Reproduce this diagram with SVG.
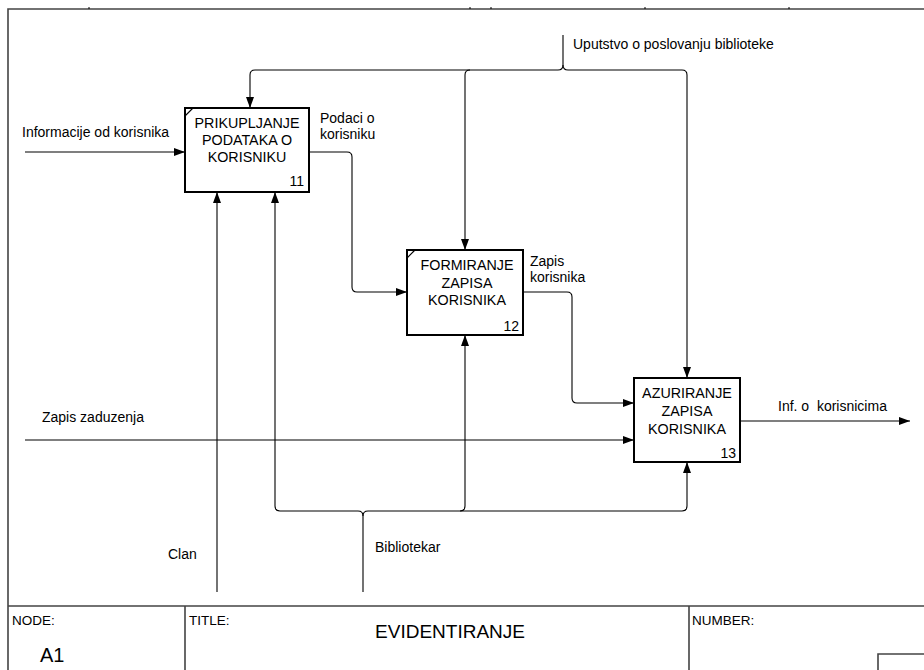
<svg xmlns="http://www.w3.org/2000/svg" width="924" height="670" viewBox="0 0 924 670">
<defs>
<style>
.frame{fill:none;stroke:#444;stroke-width:1.6}
.box{fill:#fff;stroke:#000;stroke-width:2}
.c{fill:none;stroke:#000;stroke-width:1.1}
.t{font-family:"Liberation Sans",Arial,sans-serif;font-size:14px;fill:#000}
.bt{font-family:"Liberation Sans",Arial,sans-serif;font-size:14.3px;fill:#000;text-anchor:middle}
.num{font-family:"Liberation Sans",Arial,sans-serif;font-size:14px;fill:#000;text-anchor:end}
.s{font-family:"Liberation Sans",Arial,sans-serif;font-size:13.5px;fill:#000}
</style>
<marker id="ah" markerUnits="userSpaceOnUse" markerWidth="11" markerHeight="8" refX="11" refY="4" orient="auto">
<path d="M0,0 L11,4 L0,8 z" fill="#000"/>
</marker>
</defs>
<rect width="924" height="670" fill="#fff"/>
<g id="frame">
<path class="frame" d="M8,670 V9 H924"/>
<path d="M89,7 V9 M470,7 V9 M491,7 V9 M645,7 V9 M789,7 V9" stroke="#000" stroke-width="1"/>
<path class="frame" d="M8,606 H924 M185,606 V670 M689,606 V670 M878,670 V654 H924"/>
<text class="s" x="12" y="625">NODE:</text>
<text class="t" x="40" y="662" style="font-size:20px">A1</text>
<text class="s" x="189" y="625">TITLE:</text>
<text class="t" x="450" y="638" style="font-size:19px;text-anchor:middle">EVIDENTIRANJE</text>
<text class="s" x="692" y="625">NUMBER:</text>
</g>
<g id="connectors">
<path class="c" d="M25,152 H185" marker-end="url(#ah)"/>
<text class="t" x="22" y="137">Informacije od korisnika</text>
<path class="c" d="M563,35 V65 Q563,70 558,70 H255 Q250,70 250,75 V108" marker-end="url(#ah)"/>
<path class="c" d="M563,65 Q563,70 568,70 H682 Q687,70 687,75 V378" marker-end="url(#ah)"/>
<path class="c" d="M470,70 Q465,70 465,75 V250" marker-end="url(#ah)"/>
<text class="t" x="573" y="49">Uputstvo o poslovanju biblioteke</text>
<path class="c" d="M309,152 H347 Q352,152 352,157 V287 Q352,292 357,292 H407" marker-end="url(#ah)"/>
<text class="t" x="320" y="123">Podaci o</text>
<text class="t" x="320" y="139">korisniku</text>
<path class="c" d="M523,292 H567 Q572,292 572,297 V398 Q572,403 577,403 H634" marker-end="url(#ah)"/>
<text class="t" x="530" y="266">Zapis</text>
<text class="t" x="530" y="282">korisnika</text>
<path class="c" d="M25,440 H634" marker-end="url(#ah)"/>
<text class="t" x="42" y="422">Zapis zaduzenja</text>
<path class="c" d="M740,421 H910" marker-end="url(#ah)"/>
<text class="t" x="778" y="411">Inf. o&#160; korisnicima</text>
<path class="c" d="M217,592 V192" marker-end="url(#ah)"/>
<text class="t" x="168" y="559">Clan</text>
<path class="c" d="M363,592 V516 Q363,511 358,511 H280 Q275,511 275,506 V192" marker-end="url(#ah)"/>
<path class="c" d="M363,516 Q363,511 368,511 H682 Q687,511 687,506 V462" marker-end="url(#ah)"/>
<path class="c" d="M460,511 Q465,511 465,506 V335" marker-end="url(#ah)"/>
<text class="t" x="375" y="552">Bibliotekar</text>
</g>
<g id="node11">
<rect class="box" x="185" y="108" width="124" height="84"/>
<path class="c" d="M185,116 L193,108"/>
<text class="bt" x="247" y="128">PRIKUPLJANJE</text>
<text class="bt" x="247" y="145">PODATAKA O</text>
<text class="bt" x="247" y="162">KORISNIKU</text>
<text class="num" x="304" y="186">11</text>
</g>
<g id="node12">
<rect class="box" x="407" y="250" width="116" height="85"/>
<path class="c" d="M407,258 L415,250"/>
<text class="bt" x="467" y="270">FORMIRANJE</text>
<text class="bt" x="467" y="288">ZAPISA</text>
<text class="bt" x="467" y="305">KORISNIKA</text>
<text class="num" x="519" y="331">12</text>
</g>
<g id="node13">
<rect class="box" x="634" y="378" width="106" height="84"/>
<text class="bt" x="687" y="398">AZURIRANJE</text>
<text class="bt" x="687" y="416">ZAPISA</text>
<text class="bt" x="687" y="434">KORISNIKA</text>
<text class="num" x="736" y="458">13</text>
</g>
</svg>
